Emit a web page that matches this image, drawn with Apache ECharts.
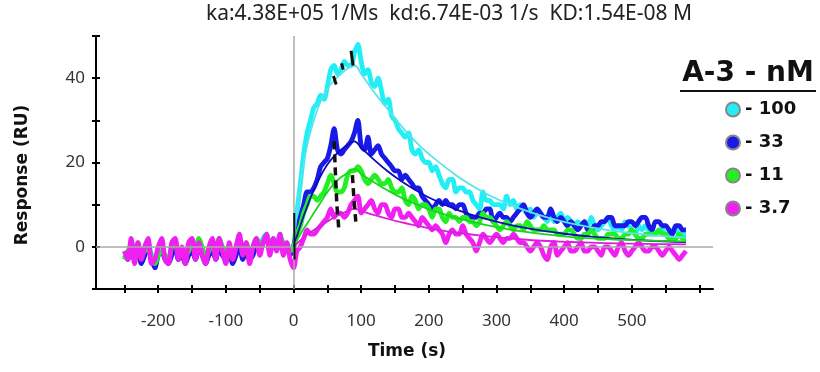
<!DOCTYPE html>
<html>
<head>
<meta charset="utf-8">
<script src="https://cdn.jsdelivr.net/npm/echarts@6/dist/echarts.min.js"></script>
<style>html,body{margin:0;padding:0;background:#fff;}#chart{width:820px;height:372px;}</style>
</head>
<body>
<div id="chart"></div>
<script>
// ---- data ----
const times = [
-250,-245,-240,-235,-230,-225,-220,-215,-210,-205,
-200,-195,-190,-185,-180,-175,-170,-165,-160,-155,
-150,-145,-140,-135,-130,-125,-120,-115,-110,-105,
-100,-95,-90,-85,-80,-75,-70,-65,-60,-55,
-50,-45,-40,-35,-30,-25,-20,-15,-10,-5,
0,5,10,15,20,25,30,35,40,45,
50,55,60,65,70,75,80,85,90,95,
100,105,110,115,120,125,130,135,140,145,
150,155,160,165,170,175,180,185,190,195,
200,205,210,215,220,225,230,235,240,245,
250,255,260,265,270,275,280,285,290,295,
300,305,310,315,320,325,330,335,340,345,
350,355,360,365,370,375,380,385,390,395,
400,405,410,415,420,425,430,435,440,445,
450,455,460,465,470,475,480,485,490,495,
500,505,510,515,520,525,530,535,540,545,
550,555,560,565,570,575,580];

const cyan100 = [
-1,-2,1,-2,0,-3,-1,1,-2,-4,
-1,0,-2,-3,-1,1,-2,-1,-3,-1,
0,-2,1,-1,-3,-1,0,-2,1,-1,
-2,0,-3,-1,1,-2,0,-2,-1,1,
0,2,3,0,2,1,3,0,1,-1,
0,8,15,22,27,30,33,34,36,35,
38,42,43,41,42,44,43,43,46,48,
44,41,42,39,38,40,37,34,35,31,
30,28,27,26,27,23,22,23,21,20,
20,18,19,17,15,14,16,16,13,14,
14,13,13,11,10,9,13,11,11,10,
10,10,9,12,10,11,9,10,9,8,
9,7,8,8,7,6,8,6,7,8,
6,7,6,5,6,5,6,5,7,5,
4,5,6,7,5,4,5,4,6,5,
4,3,5,4,5,4,4,3,4,4,
3,3,4,4,3,3,3];

const blue33 = [
-2,-3,0,-3,-1,-4,-2,0,-3,-5,
-2,-1,-3,-4,-2,0,-3,-2,-4,-2,
-1,-3,0,-2,-4,-2,-1,-3,0,-2,
-3,-1,-4,-2,0,-3,-1,-3,-2,0,
-1,1,2,-1,1,0,1,-1,0,-2,
0,4,7,10,13,13,14,16,19,20,
21,24,28,23,22,23,24,25,27,30,
24,23,26,22,23,24,22,21,20,19,
18,18,16,17,16,15,14,14,12,11,
10,9,10,11,10,11,10,10,9,10,
10,8,7,7,7,8,8,9,9,6,
7,8,7,7,6,7,8,9,10,8,
7,8,9,8,7,7,9,7,6,7,
6,5,6,5,4,5,6,4,4,5,
5,6,6,7,7,5,5,5,5,6,
6,5,6,7,7,5,4,6,6,5,
5,4,3,5,5,4,4];

const green11 = [
-3,-1,0,-2,1,-2,-1,0,-3,-4,
-2,-1,-2,-3,0,1,-2,-1,-2,-1,
1,-1,2,0,-2,-1,1,-2,2,0,
-1,0,-2,0,2,-1,1,-1,0,2,
1,1,2,0,1,0,2,1,0,-1,
0,3,5,8,10,12,12,11,12,13,
15,17,15,13,13,14,17,18,18,19,
18,16,15,16,17,16,15,15,16,14,
13,13,14,11,10,12,11,9,10,10,
9,7,9,9,7,6,8,7,7,6,
7,7,6,6,5,6,8,7,7,6,
5,4,5,6,5,4,5,5,4,6,
5,4,4,4,5,4,4,4,3,3,
3,4,4,3,2,2,3,3,4,3,
2,2,2,3,3,3,2,2,3,3,
4,3,2,2,3,3,3,3,4,3,
3,2,2,2,3,2,2];

const magenta37 = [
-1,-3,2,-4,1,-3,0,2,-4,-3,
0,2,-3,-4,1,2,-3,0,-4,1,
2,-3,1,-2,-4,0,2,-3,2,-1,
-4,1,-3,0,3,-2,1,-4,0,2,
-2,1,3,-2,2,-1,3,-2,1,-3,
-5,-1,0,2,4,3,3,4,5,6,
7,9,7,8,8,7,8,10,11,12,
8,9,10,11,9,8,10,10,8,7,
9,9,7,7,8,7,6,5,7,6,
5,4,5,4,3,1,3,4,3,3,
5,3,2,1,-1,1,3,2,1,2,
3,2,1,2,2,3,2,1,1,0,
-1,0,1,0,-2,-3,0,1,-2,-1,
0,1,-1,-1,0,1,-1,-1,0,0,
-1,-2,0,0,-1,-2,0,1,-1,-2,
-1,0,1,0,-1,-1,0,0,-1,-2,
-1,0,-1,-2,-3,-2,-1];

const fitTimes = [0,10,20,30,40,50,60,70,80,90,100,120,140,160,180,200,240,280,320,360,400,440,480,520,580];
const fitCyan    = [0,15,24,30,34.5,37.5,39.5,41,42.3,43,41,36.5,32.5,28.5,25,22,17,13,10,7.7,5.9,4.6,3.6,2.9,2.2];
const fitBlue    = [0,5,9.5,13.5,16.8,19.5,21.5,23,24.2,25,23.5,20.5,17.8,15.5,13.5,11.7,8.9,6.8,5.2,4,3.1,2.4,1.9,1.5,1.1];
const fitGreen   = [0,3,5.5,8,10.5,13,15,16.5,17.5,18.5,17.3,15.2,13.3,11.6,10.2,8.9,6.9,5.3,4.1,3.2,2.5,2,1.7,1.5,1.3];
const fitMagenta = [0,1.5,3,4,5,6,7,7.8,8.5,9,8.5,7.5,6.6,5.8,5.1,4.4,3.4,2.6,2,1.5,1.2,1,0.8,0.7,0.6];

// excluded (black) segments [time, response]
const blackSeg1 = [[59,40.5],[63,38.5]];
const blackSeg2 = [[71,43.5],[73.5,42]];
const blackSeg3 = [[85,46.5],[88,43]];
const blackSeg4 = [[60,25],[62,17],[64,10],[67,4]];
const blackSeg5 = [[87,17],[89,12],[92,6]];
const blackSeg6 = [[1,8],[1.5,-3]];

const seriesNames = ['- 100','- 33','- 11','- 3.7'];
const xTickValues = [-250,-200,-150,-100,-50,0,50,100,150,200,250,300,350,400,450,500,550,600];
const xLabelValues = [-200,-100,0,100,200,300,400,500];
const yLabelValues = [0,20,40];
const titleText = 'ka:4.38E+05 1/Ms  kd:6.74E-03 1/s  KD:1.54E-08 M';

// ---- chart ----
const zip = (xs, ys) => xs.map((x, i) => [x, ys[i]]);
const colors = ['#22eef6', '#1a1ae8', '#22f022', '#f020f0'];
const fitColors = ['#58e4ea', '#0c0cb8', '#1ed21e', '#dd1edd'];
const raw = [cyan100, blue33, green11, magenta37];
const fits = [fitCyan, fitBlue, fitGreen, fitMagenta];

const FONT = 'Noto Sans';
const series = [];
raw.forEach((d, i) => {
  series.push({
    name: seriesNames[i], type: 'line', data: zip(times, d), showSymbol: false, symbol: 'circle',
    smooth: 0.3, lineStyle: {color: colors[i], width: 4.8}, itemStyle: {color: colors[i], borderColor: '#888', borderWidth: 2},
    z: 3, silent: true, animation: false,
    markLine: i === 0 ? {
      silent: true, symbol: 'none', label: {show: false},
      lineStyle: {color: '#aaaaaa', width: 1.5, type: 'solid'},
      data: [{yAxis: 0}, {xAxis: 0}]
    } : undefined
  });
});
fits.forEach((d, i) => {
  series.push({
    name: 'fit' + i, type: 'line', data: zip(fitTimes, d), showSymbol: false, smooth: 0.4,
    lineStyle: {color: fitColors[i], width: 1.8}, z: 5, silent: true, animation: false
  });
});
[blackSeg1, blackSeg2, blackSeg3].forEach(d => series.push({
  type: 'line', data: d, showSymbol: false, lineStyle: {color: '#111', width: 3}, z: 6, silent: true, animation: false
}));
[blackSeg4, blackSeg5].forEach(d => series.push({
  type: 'line', data: d, showSymbol: false, lineStyle: {color: '#111', width: 3.5, type: [8, 5]}, z: 6, silent: true, animation: false
}));
series.push({type: 'line', data: blackSeg6, showSymbol: false, lineStyle: {color: '#111', width: 2}, z: 6, silent: true, animation: false});

const xCommon = {type: 'value', min: -292, max: 620, splitLine: {show: false}};
const yCommon = {type: 'value', min: -10, max: 50, interval: 10, splitLine: {show: false}};

const chart = echarts.init(document.getElementById('chart'), null, {renderer: 'canvas'});
chart.setOption({
  animation: false,
  grid: {left: 96, right: 107, top: 36, bottom: 83, containLabel: false},
  xAxis: [
    Object.assign({}, xCommon, {
      position: 'bottom',
      axisLine: {show: true, onZero: false, lineStyle: {color: '#000', width: 2}},
      axisTick: {show: true, inside: false, length: 4, lineStyle: {color: '#000', width: 2}, customValues: xTickValues},
      axisLabel: {show: true, customValues: xLabelValues, margin: 24, fontFamily: FONT, fontSize: 17, color: '#333'}
    }),
    Object.assign({}, xCommon, {
      position: 'bottom',
      axisLine: {show: false, onZero: false},
      axisTick: {show: true, inside: true, length: 4, lineStyle: {color: '#000', width: 2}, customValues: xTickValues},
      axisLabel: {show: false}
    })
  ],
  yAxis: [
    Object.assign({}, yCommon, {
      position: 'left',
      axisLine: {show: true, onZero: false, lineStyle: {color: '#000', width: 2}},
      axisTick: {show: true, inside: false, length: 4, lineStyle: {color: '#000', width: 2}},
      axisLabel: {show: true, customValues: yLabelValues, margin: 11, fontFamily: FONT, fontSize: 17, color: '#333'}
    }),
    Object.assign({}, yCommon, {
      position: 'left',
      axisLine: {show: false, onZero: false},
      axisTick: {show: true, inside: true, length: 4, lineStyle: {color: '#000', width: 2}},
      axisLabel: {show: false}
    })
  ],
  legend: {
    data: seriesNames, orient: 'vertical', left: 720, top: 94, icon: 'circle',
    itemWidth: 14, itemHeight: 14, itemGap: 12, selectedMode: false,
    textStyle: {fontFamily: 'DejaVu Sans', fontSize: 18, fontWeight: 'bold', color: '#111', lineHeight: 21}
  },
  graphic: [
    {type: 'text', x: 449, y: 14, style: {text: titleText, font: '21px "Noto Sans"', fill: '#222', align: 'center', verticalAlign: 'middle'}},
    {type: 'text', x: 748, y: 74, style: {text: 'A-3 - nM', font: 'bold 28px "DejaVu Sans"', fill: '#111', align: 'center', verticalAlign: 'middle'}},
    {type: 'rect', shape: {x: 680, y: 90, width: 136, height: 2}, style: {fill: '#111'}},
    {type: 'text', x: 23, y: 175, rotation: Math.PI / 2, style: {text: 'Response (RU)', font: 'bold 17px "DejaVu Sans"', fill: '#111', align: 'center', verticalAlign: 'middle'}},
    {type: 'text', x: 407, y: 352, style: {text: 'Time (s)', font: 'bold 17px "DejaVu Sans"', fill: '#111', align: 'center', verticalAlign: 'middle'}}
  ],
  series: series
});
</script>
</body>
</html>
